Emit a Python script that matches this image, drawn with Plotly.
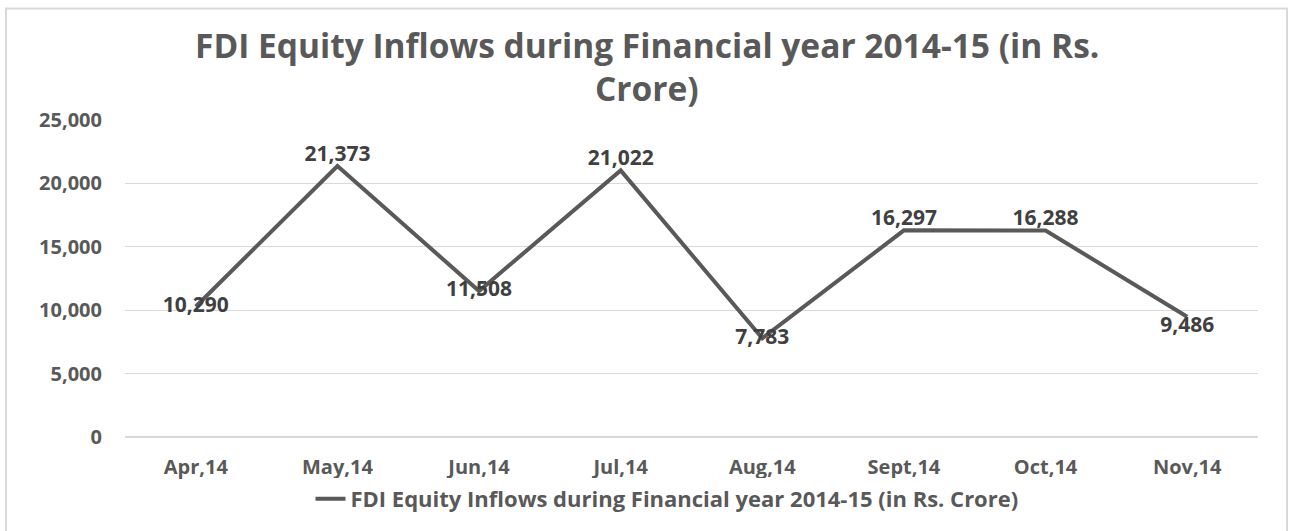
import plotly.graph_objects as go

months = ["Apr,14", "May,14", "Jun,14", "Jul,14", "Aug,14", "Sept,14", "Oct,14", "Nov,14"]
inflows = [10290, 21373, 11508, 21022, 7783, 16297, 16288, 9486]
label_pos = ["middle center", "top center", "middle center", "top center",
             "middle center", "top center", "top center", "bottom center"]
y_ticks = [0, 5000, 10000, 15000, 20000, 25000]
series_name = "FDI Equity Inflows during Financial year 2014-15 (in Rs. Crore)"
title_lines = ["FDI Equity Inflows during Financial year 2014-15 (in Rs.", "Crore)"]

GRAY = "#595959"
FONT = "Open Sans"

fig = go.Figure()
fig.add_trace(go.Scatter(
    x=months, y=inflows, mode="lines+text", name=series_name,
    line=dict(color=GRAY, width=4),
    text=[f"{v:,}" for v in inflows], textposition=label_pos,
    textfont=dict(family=FONT, size=21, color="#404040", weight="bold"),
    cliponaxis=False,
))

PH = 318.0
PW = 1133.0
fig.update_layout(
    width=1292, height=531,
    margin=dict(l=125, r=34, t=120, b=93),
    paper_bgcolor="white", plot_bgcolor="white",
    xaxis=dict(range=[-0.5, 7.5], showgrid=False, showline=False, ticks="",
               tickfont=dict(family=FONT, size=20, color=GRAY, weight="bold")),
    yaxis=dict(range=[0, 25000], tickvals=y_ticks, tickformat=",", gridcolor="#d9d9d9", gridwidth=1,
               zeroline=True, zerolinecolor="#d9d9d9", showline=False, ticks="",
               tickfont=dict(family=FONT, size=20, color=GRAY, weight="bold")),
    showlegend=True,
    legend=dict(orientation="h", x=(667 - 125) / PW, xanchor="center", y=(438 - 499) / PH, yanchor="middle",
                font=dict(family=FONT, size=22, color=GRAY, weight="bold")),
    annotations=[
        dict(text=title_lines[0], xref="paper", yref="paper", x=(647 - 125) / PW, y=(438 - 45) / PH,
             xanchor="center", yanchor="middle", showarrow=False,
             font=dict(family=FONT, size=33.5, color=GRAY, weight="bold")),
        dict(text=title_lines[1], xref="paper", yref="paper", x=(647 - 125) / PW, y=(438 - 88) / PH,
             xanchor="center", yanchor="middle", showarrow=False,
             font=dict(family=FONT, size=33.5, color=GRAY, weight="bold")),
    ],
    shapes=[dict(type="rect", xref="paper", yref="paper", x0=-0.105, x1=1.0256, y0=-0.32, y1=1.352,
                 line=dict(color="#d9d9d9", width=2), layer="below")],
)
fig.update_yaxes(ticklabelstandoff=22)
fig.update_xaxes(ticklabelstandoff=16)

fig.write_html("out.html")
